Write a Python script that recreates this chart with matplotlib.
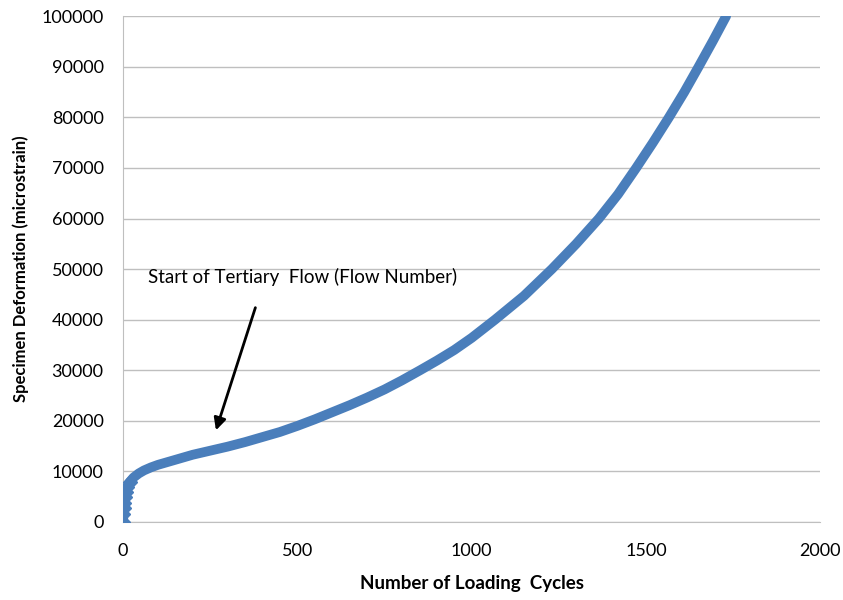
import matplotlib.pyplot as plt
import numpy as np

# values
cycles = [0, 1, 2, 3, 5, 8, 12, 20, 30, 45, 60, 80, 100, 150, 200, 250,
          300, 350, 400, 450, 500, 550, 600, 650, 700, 750, 800, 852, 900,
          950, 1000, 1067, 1150, 1230, 1300, 1365, 1420, 1472, 1520, 1566,
          1610, 1651, 1692, 1730]
strain = [0, 1500, 2800, 3800, 5000, 6000, 7000, 8000, 8800, 9600, 10200,
          10800, 11300, 12300, 13300, 14100, 14900, 15800, 16800, 17800,
          19000, 20300, 21700, 23100, 24600, 26200, 28000, 30000, 31900,
          34000, 36400, 40000, 44700, 50000, 55000, 60000, 64800, 70000,
          75000, 80000, 85000, 90000, 95100, 100000]

plt.rcParams['font.family'] = ['Lato', 'DejaVu Sans']

fig = plt.figure(figsize=(8.43, 6), dpi=100)
ax = fig.add_axes([0.146, 0.13, 0.827, 0.843])

ax.plot(cycles, strain, color="#4A7EBB", linewidth=7,
        marker="D", markersize=7, markevery=list(range(0, 8)),
        solid_capstyle="round", solid_joinstyle="round", zorder=3)

ax.set_xlim(0, 2000)
ax.set_ylim(0, 100000)
ax.set_xticks(np.arange(0, 2001, 500))
ax.set_yticks(np.arange(0, 100001, 10000))

ax.grid(True, axis="y", color="#BFBFBF", linewidth=1)
ax.set_axisbelow(True)
for side in ["top", "right"]:
    ax.spines[side].set_visible(False)
ax.spines["left"].set_color("#BFBFBF")
ax.spines["bottom"].set_color("#BFBFBF")
ax.tick_params(length=0, labelsize=13)
ax.tick_params(axis="y", pad=14)
ax.tick_params(axis="x", pad=15)

ax.set_xlabel("Number of Loading  Cycles", fontsize=13.5, fontweight="bold",
              labelpad=12)
ax.set_ylabel("Specimen Deformation (microstrain)", fontsize=12,
              fontweight="bold", labelpad=9)

ax.annotate("", xy=(264, 17600), xytext=(382, 42900),
            arrowprops=dict(arrowstyle="-|>", color="black", lw=2,
                            mutation_scale=18))
ax.text(72, 48400, "Start of Tertiary  Flow (Flow Number)", fontsize=13.5,
        va="center", ha="left")

fig.savefig("out.png", dpi=100)
